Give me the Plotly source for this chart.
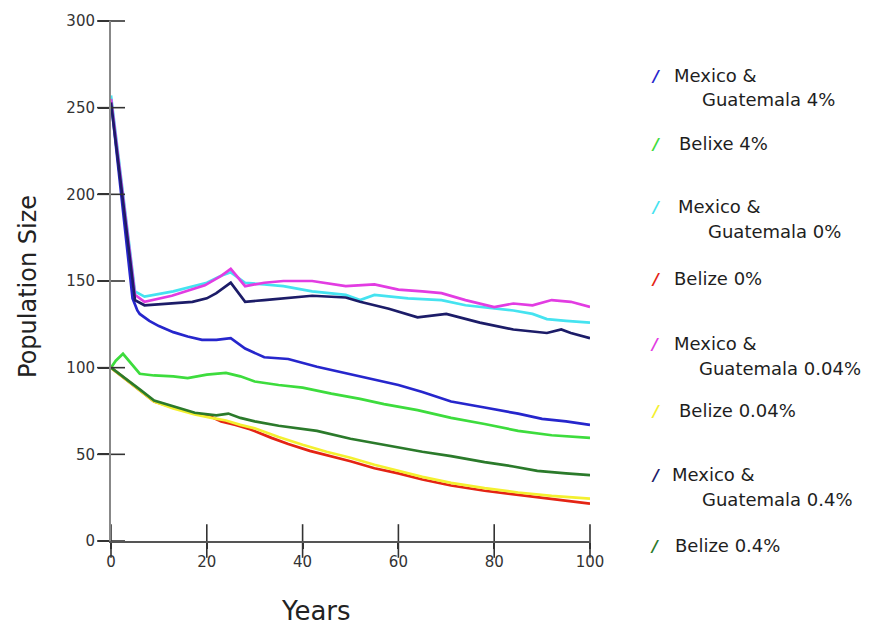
import plotly.graph_objects as go

# Series names (legend order) and line colours
names = [
    "Mexico & Guatemala 4%",
    "Belixe 4%",
    "Mexico & Guatemala 0%",
    "Belize 0%",
    "Mexico & Guatemala 0.04%",
    "Belize 0.04%",
    "Mexico & Guatemala 0.4%",
    "Belize 0.4%",
]
colors = ["#2626cc", "#3ddc3d", "#45e3f0", "#e42414", "#e23ce2", "#f4f030", "#1c1c68", "#2b7a2b"]

# Population size over years for each scenario
mg4_years = [0, 4.5, 5.5, 6, 8, 10, 13, 16, 19, 22, 25, 28, 32, 37, 43, 50, 55, 60, 65, 71, 78, 85, 90, 95, 100]
mg4_pop = [254, 140, 133, 131, 127, 124, 120.5, 118, 116, 116, 117, 111, 106, 105, 100.5, 96, 93, 90, 86, 80.5, 77, 73.5, 70.5, 69, 67]

bz4_years = [0, 1, 2.5, 4, 6, 9, 13, 16, 20, 24, 27, 30, 35, 40, 46, 52, 57, 64, 71, 78, 85, 92, 100]
bz4_pop = [100, 104, 108, 103, 96.5, 95.5, 95, 94, 96, 97, 95, 92, 90, 88.5, 85, 82, 79, 75.5, 71, 67.5, 63.5, 61, 59.5]

mg0_years = [0, 5, 7, 13, 20, 23, 25, 28, 32, 36, 42, 49, 52, 55, 62, 69, 74, 80, 84, 88, 91, 95, 100]
mg0_pop = [257, 144, 141, 144, 149, 153, 155, 149, 148, 147, 144, 142, 139, 142, 140, 139, 136, 134, 133, 131, 128, 127, 126]

bz0_years = [0, 3, 6, 9, 13, 17.5, 21, 23, 26, 29, 33.5, 37, 41.5, 46, 50, 55, 60, 65, 71, 78, 85, 92, 100]
bz0_pop = [100, 93.5, 87, 80.5, 77, 73.5, 71.5, 69, 67, 64.5, 59.5, 56, 52, 49, 46, 42, 39, 35.5, 32, 29, 26.5, 24, 21.5]

mg004_years = [0, 5, 7, 12.7, 19.6, 23, 25, 28, 32, 36, 42, 49, 55, 60, 65, 69, 74, 80, 84, 88, 92, 96, 100]
mg004_pop = [255, 142, 138, 141.5, 147.5, 153, 157, 147, 149, 150, 150, 147, 148, 145, 144, 143, 139, 135, 137, 136, 139, 138, 135]

bz004_years = [0, 3, 6, 9, 13, 17.5, 21, 24, 27, 30, 35, 40, 45, 50, 55, 60, 65, 71, 78, 85, 92, 100]
bz004_pop = [100, 93.5, 87, 80.5, 76.5, 73, 71, 69.5, 67, 65, 60, 55.5, 51.5, 48, 44, 40.5, 37, 33.5, 30.5, 28, 26, 24.5]

mg04_years = [0, 5, 7, 12, 17, 20, 22, 25, 28, 32, 36, 42, 49, 52, 58, 64, 70, 77, 84, 91, 94, 96, 100]
mg04_pop = [253, 139, 136, 137, 138, 140, 143, 149, 138, 139, 140, 141.5, 140.5, 138, 134, 129, 131, 126, 122, 120, 122, 120, 117]

bz04_years = [0, 3, 6, 9, 13, 17.5, 22, 24.5, 27, 30, 35, 40, 43, 50, 55, 60, 65, 71, 78, 84, 89, 95, 100]
bz04_pop = [100, 94, 87.5, 81, 77.5, 74, 72.5, 73.5, 71, 69, 66.5, 64.5, 63.5, 59, 56.5, 54, 51.5, 49, 45.5, 43, 40.5, 39, 38]

series_x = [mg4_years, bz4_years, mg0_years, bz0_years, mg004_years, bz004_years, mg04_years, bz04_years]
series_y = [mg4_pop, bz4_pop, mg0_pop, bz0_pop, mg004_pop, bz004_pop, mg04_pop, bz04_pop]

x_ticks = [0, 20, 40, 60, 80, 100]
y_ticks = [0, 50, 100, 150, 200, 250, 300]
y_tick_text = ["0", "50", "100", "150", "200", "250", "300"]

FONT = "DejaVu Sans"
W, H = 870, 633
M_L, M_R, M_T, M_B = 111, 280, 17, 92
PW, PH = W - M_L - M_R, H - M_T - M_B


def px(x):
    return (x - M_L) / PW


def py(y):
    return (H - M_B - y) / PH


fig = go.Figure()
for xs, ys, name, col in zip(series_x, series_y, names, colors):
    fig.add_trace(go.Scatter(x=xs, y=ys, mode="lines", name=name,
                             line=dict(color=col, width=2.7), showlegend=False))

# inner halves of the tick marks, so that ticks cross the axis lines
fig.add_trace(go.Scatter(x=[0] * len(y_ticks), y=y_ticks, mode="markers", cliponaxis=False,
                         marker=dict(symbol="line-ew-open", size=20, color="#333",
                                     line=dict(color="#333", width=1.6)),
                         showlegend=False, hoverinfo="skip"))
fig.add_trace(go.Scatter(x=x_ticks, y=[0] * len(x_ticks), mode="markers", cliponaxis=False,
                         marker=dict(symbol="line-ns-open", size=24, color="#333",
                                     line=dict(color="#333", width=1.6)),
                         showlegend=False, hoverinfo="skip"))

axis_common = dict(showgrid=False, zeroline=False, ticks="outside", tickcolor="#333",
                   tickwidth=1.6, tickfont=dict(family=FONT, size=15, color="#333"))

fig.update_layout(
    width=W, height=H,
    margin=dict(l=M_L, r=M_R, t=M_T, b=M_B),
    paper_bgcolor="white", plot_bgcolor="white",
    xaxis=dict(range=[0, 100], tickvals=x_ticks, ticklen=6,
               showline=True, linecolor="#555", linewidth=1.5, **axis_common),
    yaxis=dict(range=[0, 300], tickvals=y_ticks, ticktext=y_tick_text, ticklen=11,
               showline=True, linecolor="#888", linewidth=2, **axis_common),
)

ann = []
# axis titles
ann.append(dict(text="Population Size", x=px(28), y=py(285), xref="paper", yref="paper",
                textangle=-90, showarrow=False, xanchor="center", yanchor="middle",
                font=dict(family=FONT, size=24, color="#222")))
ann.append(dict(text="Years", x=px(316), y=py(612), xref="paper", yref="paper",
                showarrow=False, xanchor="center", yanchor="middle",
                font=dict(family=FONT, size=26, color="#222")))

# legend: slash swatch, first line, optional indented second line
legend_pos = [
    (655, 672, 72, 700, 96),
    (655, 677, 140, None, None),
    (655, 676, 204, 706, 229),
    (655, 672, 276, None, None),
    (654, 672, 342, 697, 367),
    (655, 677, 409, None, None),
    (655, 670, 474, 700, 499),
    (654, 673, 546, None, None),
]
for name, col, (sx, x1, y1, x2, y2) in zip(names, colors, legend_pos):
    ann.append(dict(text="<b><i>/</i></b>", x=px(sx), y=py(y1 + 1), xref="paper", yref="paper",
                    showarrow=False, xanchor="center", yanchor="middle",
                    font=dict(family=FONT, size=16, color=col)))
    if "& " in name:
        first, second = name.split("& ", 1)
        lines = [(first + "&", x1, y1), (second, x2, y2)]
    else:
        lines = [(name, x1, y1)]
    for txt, lx, ly in lines:
        ann.append(dict(text=txt, x=px(lx), y=py(ly), xref="paper", yref="paper",
                        showarrow=False, xanchor="left", yanchor="middle",
                        font=dict(family=FONT, size=18, color="#1e1e1e")))

fig.update_layout(annotations=ann)
fig.write_html("out.html")
